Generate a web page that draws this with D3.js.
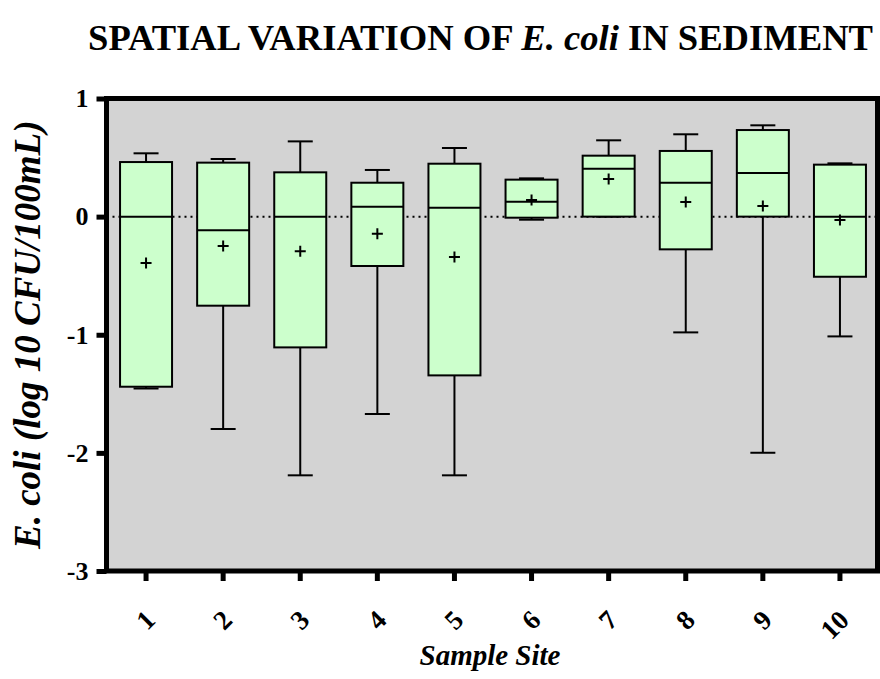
<!DOCTYPE html>
<html>
<head>
<meta charset="utf-8">
<script src="https://cdn.jsdelivr.net/npm/d3@7"></script>
<style>
  html, body { margin: 0; padding: 0; background: #fff; }
  svg text { font-family: "Liberation Serif", "Times New Roman", serif; font-weight: bold; }
</style>
</head>
<body>
<svg id="chart" width="880" height="679"></svg>
<script>
const sites   = ["1","2","3","4","5","6","7","8","9","10"];
const mins    = [-1.455, -1.798, -2.19, -1.671, -2.19, -0.026, 0.0, -0.98, -1.999, -1.014];
const q1s     = [-1.44, -0.754, -1.107, -0.418, -1.344, -0.009, 0.0, -0.277, 0.0, -0.509];
const medians = [0.0, -0.116, 0.0, 0.084, 0.075, 0.126, 0.406, 0.287, 0.369, 0.0];
const q3s     = [0.462, 0.457, 0.375, 0.287, 0.448, 0.313, 0.516, 0.556, 0.733, 0.44];
const maxs    = [0.536, 0.488, 0.637, 0.395, 0.581, 0.324, 0.646, 0.697, 0.773, 0.451];
const means   = [-0.393, -0.249, -0.294, -0.145, -0.342, 0.14, 0.318, 0.124, 0.09, -0.029];
const yTicks  = [1, 0, -1, -2, -3];

const data = sites.map((s, i) => ({site: s, min: mins[i], q1: q1s[i], med: medians[i], q3: q3s[i], max: maxs[i], mean: means[i]}));

const svg = d3.select("#chart");
const pL = 106.5, pR = 877.5, pT = 98.5, pB = 571;

const x = d3.scaleBand().domain(sites).range([107.5, 878.5]).padding(0);
const y = d3.scaleLinear().domain([-3, 1]).range([pB, pT]);

const boxW = 52, capW = 25;

// plot background
svg.append("rect").attr("x", pL).attr("y", pT).attr("width", pR - pL).attr("height", pB - pT)
  .attr("fill", "#d3d3d3");

// dotted zero line
svg.append("line").attr("x1", pL).attr("x2", pR).attr("y1", y(0)).attr("y2", y(0))
  .attr("stroke", "#000").attr("stroke-width", 2).attr("stroke-dasharray", "2,4");

const g = svg.append("g").selectAll("g").data(data).join("g")
  .attr("transform", d => `translate(${x(d.site) + x.bandwidth() / 2},0)`);

// whiskers
g.append("line").attr("x1", 0).attr("x2", 0).attr("y1", d => y(d.max)).attr("y2", d => y(d.q3))
  .attr("stroke", "#000").attr("stroke-width", 2);
g.append("line").attr("x1", 0).attr("x2", 0).attr("y1", d => y(d.q1)).attr("y2", d => y(d.min))
  .attr("stroke", "#000").attr("stroke-width", 2);
g.append("line").attr("x1", -capW / 2).attr("x2", capW / 2).attr("y1", d => y(d.max)).attr("y2", d => y(d.max))
  .attr("stroke", "#000").attr("stroke-width", 2);
g.append("line").attr("x1", -capW / 2).attr("x2", capW / 2).attr("y1", d => y(d.min)).attr("y2", d => y(d.min))
  .attr("stroke", "#000").attr("stroke-width", 2);

// boxes
g.append("rect").attr("x", -boxW / 2).attr("width", boxW)
  .attr("y", d => y(d.q3)).attr("height", d => y(d.q1) - y(d.q3))
  .attr("fill", "#ccffcc").attr("stroke", "#000").attr("stroke-width", 2);
g.append("line").attr("x1", -boxW / 2).attr("x2", boxW / 2).attr("y1", d => y(d.med)).attr("y2", d => y(d.med))
  .attr("stroke", "#000").attr("stroke-width", 2);

// mean markers
g.append("path").attr("d", d => `M-5.5,${y(d.mean)}H5.5M0,${y(d.mean) - 5.5}V${y(d.mean) + 5.5}`)
  .attr("stroke", "#000").attr("stroke-width", 2);

// frame
svg.append("rect").attr("x", pL).attr("y", pT).attr("width", pR - pL).attr("height", pB - pT)
  .attr("fill", "none").attr("stroke", "#000").attr("stroke-width", 5);

// y axis
const yAxis = svg.append("g").attr("transform", `translate(${pL},0)`)
  .call(d3.axisLeft(y).tickValues(yTicks).tickFormat(d => String(d)).tickSize(10).tickPadding(8));
yAxis.select(".domain").remove();
yAxis.selectAll(".tick line").attr("stroke", "#000").attr("stroke-width", 5);
yAxis.selectAll(".tick text").attr("font-size", 26).attr("fill", "#000")
  .attr("font-family", "Liberation Serif").attr("font-weight", "bold");

// x axis
const xAxis = svg.append("g").attr("transform", `translate(0,${pB})`)
  .call(d3.axisBottom(x).tickSize(10).tickPadding(0));
xAxis.select(".domain").remove();
xAxis.selectAll(".tick line").attr("stroke", "#000").attr("stroke-width", 5);
xAxis.selectAll(".tick text").attr("font-size", 27).attr("fill", "#000")
  .attr("font-family", "Liberation Serif").attr("font-weight", "bold")
  .attr("text-anchor", "end").attr("dy", "0.35em")
  .attr("transform", "translate(4,44) rotate(-45)").attr("y", 0).attr("x", 0);

// title
const title = svg.append("text").attr("x", 480.5).attr("y", 50).attr("text-anchor", "middle")
  .attr("font-size", 36.6).attr("fill", "#000");
title.append("tspan").text("SPATIAL VARIATION OF ");
title.append("tspan").attr("font-style", "italic").text("E. coli");
title.append("tspan").text(" IN SEDIMENT");

// y label
const yl = svg.append("text").attr("transform", `translate(40,${(pT + pB) / 2}) rotate(-90)`)
  .attr("text-anchor", "middle").attr("font-size", 37).attr("font-style", "italic").attr("fill", "#000");
yl.text("E. coli (log 10 CFU/100mL)");

// x label
svg.append("text").attr("x", 490).attr("y", 665).attr("text-anchor", "middle")
  .attr("font-size", 29).attr("font-style", "italic").attr("fill", "#000").text("Sample Site");
</script>
</body>
</html>
